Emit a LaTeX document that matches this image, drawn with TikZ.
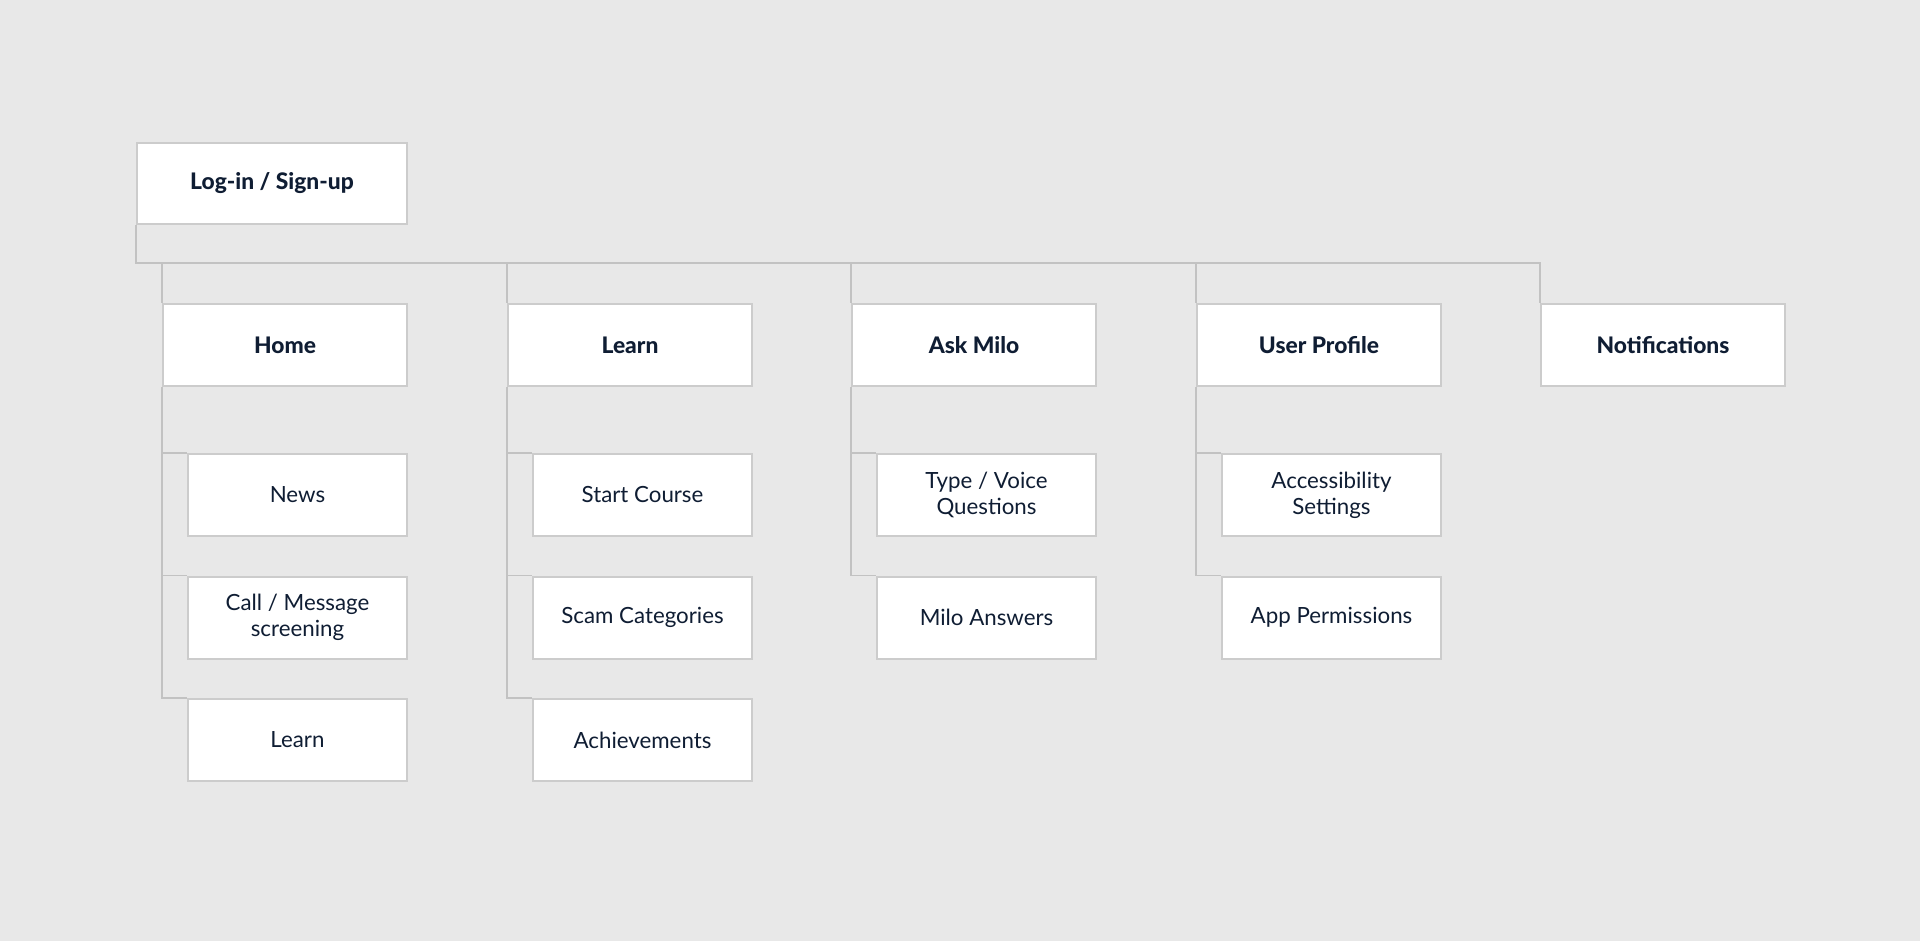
\documentclass[tikz,border=0pt]{standalone}
\usepackage{fontspec}
\setmainfont{Lato}[BoldFont={Lato Heavy}]
\definecolor{bg}{HTML}{E8E8E8}
\definecolor{ink}{HTML}{0F1D33}
\definecolor{edge}{HTML}{CCCCCC}
\definecolor{wire}{HTML}{C2C2C2}
\tikzset{
  box/.style={draw=edge, line width=1pt, fill=white, anchor=north west, inner sep=0pt,
    text=ink, align=center, font=\fontsize{11.15}{13}\selectfont},
  topbox/.style={box, minimum width=122pt, minimum height=41pt, font=\fontsize{11.4}{13}\selectfont\bfseries},
  subbox/.style={box, minimum width=109.5pt, minimum height=41pt},
  conn/.style={draw=wire, line width=0.8pt}
}
\begin{document}
\begin{tikzpicture}[x=0.5pt,y=-0.5pt]
\fill[bg] (0,0) rectangle (1920,941);
\useasboundingbox (0,0) rectangle (1920,941);
% top
\node[topbox, minimum width=135pt, minimum height=40.5pt] (login) at (136,142) {Log-in / Sign-up};
% parents
\node[topbox] (home)  at (162,303)  {Home};
\node[topbox] (learn) at (507,303)  {Learn};
\node[topbox] (milo)  at (851,303)  {Ask Milo};
\node[topbox] (prof)  at (1196,303) {User Profile};
\node[topbox] (notif) at (1540,303) {Notifications};
% children
\node[subbox] (news)  at (187,453)   {News};
\node[subbox] (call)  at (187,575.5) {Call / Message\\screening};
\node[subbox] (hlearn) at (187,698)  {Learn};
\node[subbox] (start) at (532,453)   {Start Course};
\node[subbox] (scam)  at (532,575.5) {Scam Categories};
\node[subbox] (ach)   at (532,698)   {Achievements};
\node[subbox] (type)  at (876,453)   {Type / Voice\\Questions};
\node[subbox] (ans)   at (876,575.5) {Milo Answers};
\node[subbox] (acc)   at (1221,453)  {Accessibility\\Settings};
\node[subbox] (perm)  at (1221,575.5) {App Permissions};
% bus
\coordinate (busL) at (136,263);
\coordinate (busR) at (1540,263);
\draw[conn] (login.south west) -- (busL) -- (busR) -- (notif.north west);
\foreach \p in {home,learn,milo,prof}{
  \draw[conn] (\p.north west |- busL) -- (\p.north west);
}
% children connectors
\foreach \p/\c in {home/news,home/call,home/hlearn,learn/start,learn/scam,learn/ach,milo/type,milo/ans,prof/acc,prof/perm}{
  \draw[conn] (\p.south west) |- (\c.north west);
}
\end{tikzpicture}
\end{document}
